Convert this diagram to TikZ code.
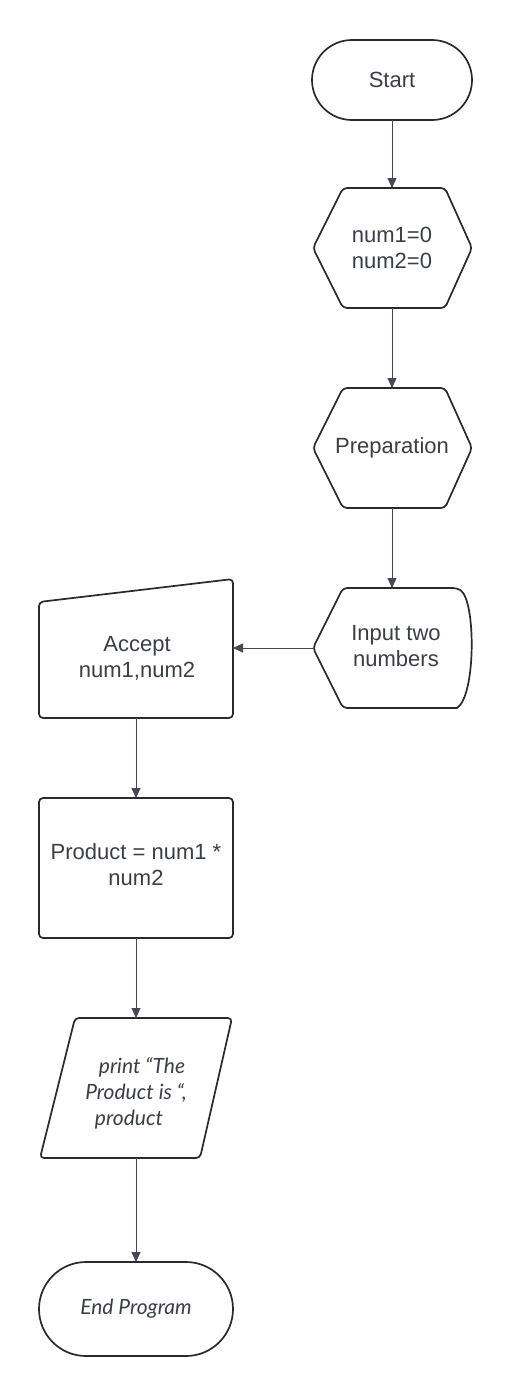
\documentclass[tikz,border=0pt]{standalone}
\usepackage{fontspec}
\setmainfont{Liberation Sans}
\newfontfamily\latofont{Lato}
\usetikzlibrary{arrows.meta,shapes.misc}
\definecolor{txt}{HTML}{3A3F47}
\definecolor{edge}{HTML}{2A2A2A}
\definecolor{arr}{HTML}{454A52}
\tikzset{
  x=1pt,y=1pt,
  outline/.style={draw=edge,line width=1.7pt,rounded corners=4pt,line join=round},
  box/.style={inner sep=0pt,outer sep=0pt,text=txt,align=center,font=\fontsize{22}{26}\selectfont},
  itbox/.style={box,font=\latofont\itshape\fontsize{21}{26}\selectfont},
  conn/.style={draw=arr,line width=0.9pt,-{Triangle[length=10pt,width=9pt]}}
}
\begin{document}
\begin{tikzpicture}
\useasboundingbox[fill=white] (0,0) rectangle (512,-1395);
% shapes
\node[box,shape=rounded rectangle,draw=edge,line width=1.7pt,minimum width=160pt,minimum height=80pt] (start) at (392,-80) {Start};
\node[box,minimum width=159pt,minimum height=120pt] (num) at (392,-248) {num1=0\\num2=0};
\node[box,minimum width=159pt,minimum height=120pt] (prep) at (392,-448) {Preparation};
\node[box,minimum width=160pt,minimum height=120pt] (input) at (393,-648) {};
\node[box] (inputT) at (396,-646) {Input two\\numbers};
\node[box,minimum width=194pt,minimum height=128pt] (accept) at (136,-654) {};
\node[box] (acceptT) at (137,-658) {Accept\\num1,num2};
\node[box,minimum width=194pt,minimum height=140pt] (prod) at (136,-868) {};
\node[box] (prodT) at (136,-865) {Product = num1 *\\num2};
\node[box,minimum width=192pt,minimum height=140pt] (print) at (136,-1088) {};
\node[itbox] (printT) at (136,-1093) {\hspace*{12pt}print “The\\Product is “,\\product\hspace*{14pt}};
\node[itbox,shape=rounded rectangle,draw=edge,line width=1.7pt,minimum width=194pt,minimum height=94pt] (end) at (136,-1309) {End Program};
% outlines
\draw[outline] (343,-188) -- (445,-188) -- (472,-248) -- (445,-308) -- (343,-308) -- (313,-248) -- cycle;
\draw[outline] (343,-388) -- (445,-388) -- (472,-448) -- (445,-508) -- (343,-508) -- (313,-448) -- cycle;
\draw[outline] (313,-648) -- (343,-588) -- (457,-588) {[rounded corners=0pt] .. controls (476,-600) and (476,-696) .. (457,-708)} -- (343,-708) -- cycle;
\draw[outline] (39,-602) -- (233,-579) -- (233,-718) -- (39,-718) -- cycle;
\draw[outline] (39,-798) rectangle (233,-938);
\draw[outline] (75,-1018) -- (232,-1018) -- (200,-1158) -- (40,-1158) -- cycle;
% connectors
\draw[conn] (start.south) -- (num.north);
\draw[conn] (num.south) -- (prep.north);
\draw[conn] (prep.south) -- (input.north -| prep.south);
\draw[conn] (input.west) -- (input.west -| accept.east);
\draw[conn] (accept.south) -- (prod.north);
\draw[conn] (prod.south) -- (print.north);
\draw[conn] (print.south) -- (end.north);
\end{tikzpicture}
\end{document}
